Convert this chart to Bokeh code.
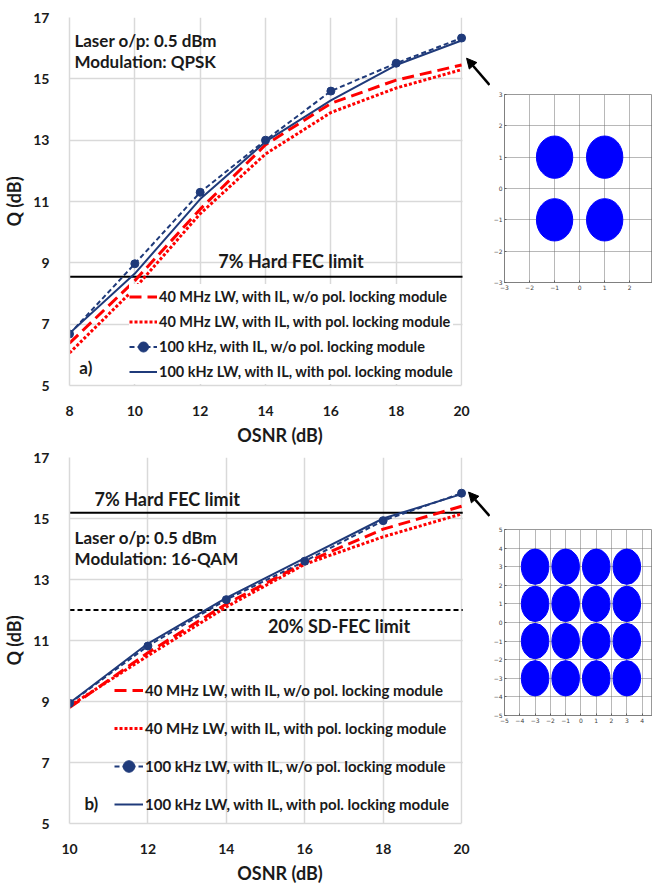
from bokeh.plotting import figure
from bokeh.models import (Range1d, FixedTicker, Span, Label, Arrow, NormalHead, BoxAnnotation,
                          Legend, LegendItem, Title)
from bokeh.layouts import row, column
from bokeh.embed import file_html
from bokeh.resources import INLINE

# ---------------- data ----------------
# panel a) QPSK
osnr_a = [8, 10, 12, 14, 16, 18, 20]
qa_red_dash = [6.38, 8.42, 10.75, 12.85, 14.2, 14.96, 15.45]
qa_red_dot = [6.06, 8.17, 10.6, 12.55, 13.9, 14.7, 15.3]
qa_blue_dash = [6.68, 8.97, 11.30, 13.0, 14.6, 15.51, 16.33]
qa_blue_solid = [6.7, 8.65, 11.08, 12.95, 14.3, 15.45, 16.25]
hard_fec_a = 8.55

# panel b) 16-QAM
osnr_b = [10, 12, 14, 16, 18, 20]
qb_red_dash = [8.8, 10.6, 12.2, 13.55, 14.65, 15.4]
qb_red_dot = [8.85, 10.5, 12.1, 13.5, 14.4, 15.15]
qb_blue_dash = [8.94, 10.82, 12.34, 13.6, 14.93, 15.83]
qb_blue_solid = [8.95, 10.9, 12.4, 13.7, 15.0, 15.8]
hard_fec_b = 15.19
sd_fec_b = 12.0

x_ticks_a = [8, 10, 12, 14, 16, 18, 20]
x_ticks_b = [10, 12, 14, 16, 18, 20]
y_ticks = [5, 7, 9, 11, 13, 15, 17]

labels_a = ["40 MHz LW, with IL, w/o pol. locking module",
            "40 MHz LW, with IL, with pol. locking module",
            "100 kHz, with IL, w/o pol. locking module",
            "100 kHz LW, with IL, with pol. locking module"]
labels_b = ["40 MHz LW, with IL, w/o pol. locking module",
            "40 MHz LW, with IL, with pol. locking module",
            "100 kHz LW, with IL, w/o pol. locking module",
            "100 kHz LW, with IL, with pol. locking module"]

# constellation centres
qpsk_i = [-1, 1, -1, 1]
qpsk_q = [1, 1, -1, -1]
qam_i = [-3, -1, 1, 3] * 4
qam_q = [3] * 4 + [1] * 4 + [-1] * 4 + [-3] * 4
qpsk_ticks_x = [-3, -2, -1, 0, 1, 2]
qpsk_ticks_y = [-3, -2, -1, 0, 1, 2, 3]
qam_ticks_x = [-5, -4, -3, -2, -1, 0, 1, 2, 3, 4]
qam_ticks_y = [-5, -4, -3, -2, -1, 0, 1, 2, 3, 4, 5]

# ---------------- style ----------------
FONT = "Lato"
RED = "#FF0000"
NAVY = "#1F3A7A"
GRID = "#D9D9D9"
DOT_BLUE = "#0000FF"
FRAME_W = 393          # width of the data area up to the last OSNR tick
EXTRA_PX = 29          # blank strip right of the data area (room for the pointer arrow)


def no_align(f):
    try:
        f.frame_align = False
    except Exception:
        pass


def main_fig(height, x0, x1, xticks, mtop, mbottom):
    x_ext = x1 + EXTRA_PX * (x1 - x0) / FRAME_W
    p = figure(width=490, height=height, x_range=Range1d(x0, x_ext), y_range=Range1d(5, 17),
               output_backend="svg", toolbar_location=None,
               min_border_left=68, min_border_right=0, min_border_top=mtop,
               min_border_bottom=mbottom, y_axis_label="Q (dB)")
    no_align(p)
    p.xaxis.ticker = FixedTicker(ticks=xticks)
    p.yaxis.ticker = FixedTicker(ticks=y_ticks)
    p.xaxis.bounds = (x0, x1)
    for ax in (p.xaxis[0], p.yaxis[0]):
        ax.axis_line_color = GRID
        ax.axis_line_width = 1.5
        ax.major_tick_line_color = None
        ax.minor_tick_line_color = None
        ax.major_label_text_font = FONT
        ax.major_label_text_font_style = "bold"
        ax.major_label_text_font_size = "14px"
        ax.major_label_text_color = "#1A1A1A"
        ax.axis_label_text_font = FONT
        ax.axis_label_text_font_style = "bold"
        ax.axis_label_text_font_size = "18px"
        ax.axis_label_text_color = "#1A1A1A"
    p.xaxis.major_label_standoff = 14
    p.yaxis.major_label_standoff = 14
    p.yaxis.axis_label_standoff = 5
    # x-axis title centred on the data area (not on the extended frame)
    p.add_layout(Title(text="OSNR (dB)", align="center", offset=-EXTRA_PX / 2,
                       text_font=FONT, text_font_style="bold", text_font_size="18px",
                       text_color="#1A1A1A", standoff=6), "below")
    p.xgrid.ticker = FixedTicker(ticks=xticks)
    p.ygrid.ticker = FixedTicker(ticks=y_ticks)
    p.grid.grid_line_color = GRID
    p.grid.grid_line_width = 1.5
    p.outline_line_color = None
    p.background_fill_color = "white"
    p.border_fill_color = "white"
    return p


def fec_line(p, level, dash="solid"):
    p.add_layout(Span(location=level, dimension="width", line_color="black", line_width=2,
                      line_dash=dash, level="underlay"))


def blank_strip(p, x1):
    # white strip right of the last tick: hides grid / limit lines, keeps arrow & markers
    p.add_layout(BoxAnnotation(left=x1 + 0.03, fill_color="white", fill_alpha=1.0,
                               line_alpha=0, level="underlay"))


def series(p, x, rd, rt, bd, bs, msize):
    r1 = p.line(x, rd, line_color=RED, line_width=3, line_dash="12 6")
    r2 = p.line(x, rt, line_color=RED, line_width=3, line_dash="3 2")
    r3 = p.line(x, bd, line_color=NAVY, line_width=2, line_dash="5 3")
    r3m = p.scatter(x, bd, marker="circle", size=msize, fill_color=NAVY, line_color=NAVY)
    r4 = p.line(x, bs, line_color=NAVY, line_width=2)
    return [[r1], [r2], [r3, r3m], [r4]]


def add_legend(p, rens, labels, loc, lh, gw, bg_alpha, fsize):
    items = [LegendItem(label=l, renderers=r) for l, r in zip(labels, rens)]
    lg = Legend(items=items, location=loc, orientation="vertical")
    lg.label_text_font = FONT
    lg.label_text_font_style = "bold"
    lg.label_text_font_size = fsize
    lg.label_text_color = "#1A1A1A"
    lg.label_height = lh
    lg.glyph_height = lh
    lg.glyph_width = gw
    lg.label_standoff = 2
    lg.spacing = 0
    lg.padding = 0
    lg.margin = 0
    lg.border_line_color = None
    lg.background_fill_color = "white"
    lg.background_fill_alpha = bg_alpha
    p.add_layout(lg)


def text(p, x, y, s, size="17px", align="left"):
    p.add_layout(Label(x=x, y=y, text=s, text_font=FONT, text_font_style="bold",
                       text_font_size=size, text_color="#1A1A1A",
                       text_align=align, text_baseline="middle"))


def arrow(p, tip, tail):
    p.add_layout(Arrow(end=NormalHead(size=10, fill_color="black", line_color="black"),
                       x_start=tail[0], y_start=tail[1], x_end=tip[0], y_end=tip[1],
                       line_color="black", line_width=2.5))


def inset(width, height, xr, yr, xt, yt, mtop, mbottom):
    q = figure(width=width, height=height, x_range=Range1d(*xr), y_range=Range1d(*yr),
               output_backend="svg", toolbar_location=None,
               min_border_left=10, min_border_right=0,
               min_border_top=mtop, min_border_bottom=mbottom)
    no_align(q)
    q.background_fill_color = "white"
    q.border_fill_color = "white"
    q.outline_line_color = "#999999"
    q.xaxis.ticker = FixedTicker(ticks=xt)
    q.yaxis.ticker = FixedTicker(ticks=yt)
    q.xgrid.ticker = FixedTicker(ticks=xt)
    q.ygrid.ticker = FixedTicker(ticks=yt)
    q.grid.grid_line_color = "#707070"
    q.grid.grid_line_dash = "1 1"
    q.grid.grid_line_width = 1
    for ax in (q.xaxis[0], q.yaxis[0]):
        ax.axis_line_color = "#808080"
        ax.major_tick_in = 2
        ax.major_tick_out = 0
        ax.major_tick_line_color = "#606060"
        ax.minor_tick_line_color = None
        ax.major_label_text_font = "DejaVu Sans"
        ax.major_label_text_font_size = "6px"
        ax.major_label_text_color = "#404040"
        ax.major_label_standoff = 2
    return q


# ---------------- panel a ----------------
pa = main_fig(448, 8, 20, x_ticks_a, 17, 60)
fec_line(pa, hard_fec_a)
blank_strip(pa, 20)
rens_a = series(pa, osnr_a, qa_red_dash, qa_red_dot, qa_blue_dash, qa_blue_solid, 8)
add_legend(pa, rens_a, labels_a, (60, 1), 25, 28, 1.0, "14.5px")
text(pa, 8.15, 16.26, "Laser o/p: 0.5 dBm")
text(pa, 8.15, 15.55, "Modulation: QPSK")
text(pa, 14.78, 9.07, "7% Hard FEC limit", size="18px", align="center")
text(pa, 8.3, 5.58, "a)")
arrow(pa, (20.153, 15.673), (20.855, 14.80))

ia = inset(162, 448, (-3, 2.91), (-3, 3), qpsk_ticks_x, qpsk_ticks_y, 94, 166)
ia.ellipse(qpsk_i, qpsk_q, width=1.45, height=1.35, fill_color=DOT_BLUE, line_color=DOT_BLUE)

# ---------------- panel b ----------------
pb = main_fig(438, 10, 20, x_ticks_b, 9, 58)
fec_line(pb, hard_fec_b)
fec_line(pb, sd_fec_b, dash="5 3")
blank_strip(pb, 20)
rens_b = series(pb, osnr_b, qb_red_dash, qb_red_dot, qb_blue_dash, qb_blue_solid, 8)
add_legend(pb, rens_b, labels_b, (45, 0), 38, 29, 0.0, "15px")
text(pb, 10.64, 15.64, "7% Hard FEC limit", size="18px")
text(pb, 10.13, 14.38, "Laser o/p: 0.5 dBm")
text(pb, 10.13, 13.70, "Modulation: 16-QAM")
text(pb, 15.06, 11.47, "20% SD-FEC limit", size="18px")
text(pb, 10.38, 5.64, "b)")
arrow(pb, (20.178, 15.867), (20.712, 15.087))

ib = inset(162, 438, (-5, 4.68), (-5, 5), qam_ticks_x, qam_ticks_y, 81, 171)
ib.ellipse(qam_i, qam_q, width=1.8, height=1.9, fill_color=DOT_BLUE, line_color=DOT_BLUE)

layout = column(row(pa, ia, spacing=0), row(pb, ib, spacing=0), spacing=0)
open("out.html", "w").write(file_html(layout, INLINE))
